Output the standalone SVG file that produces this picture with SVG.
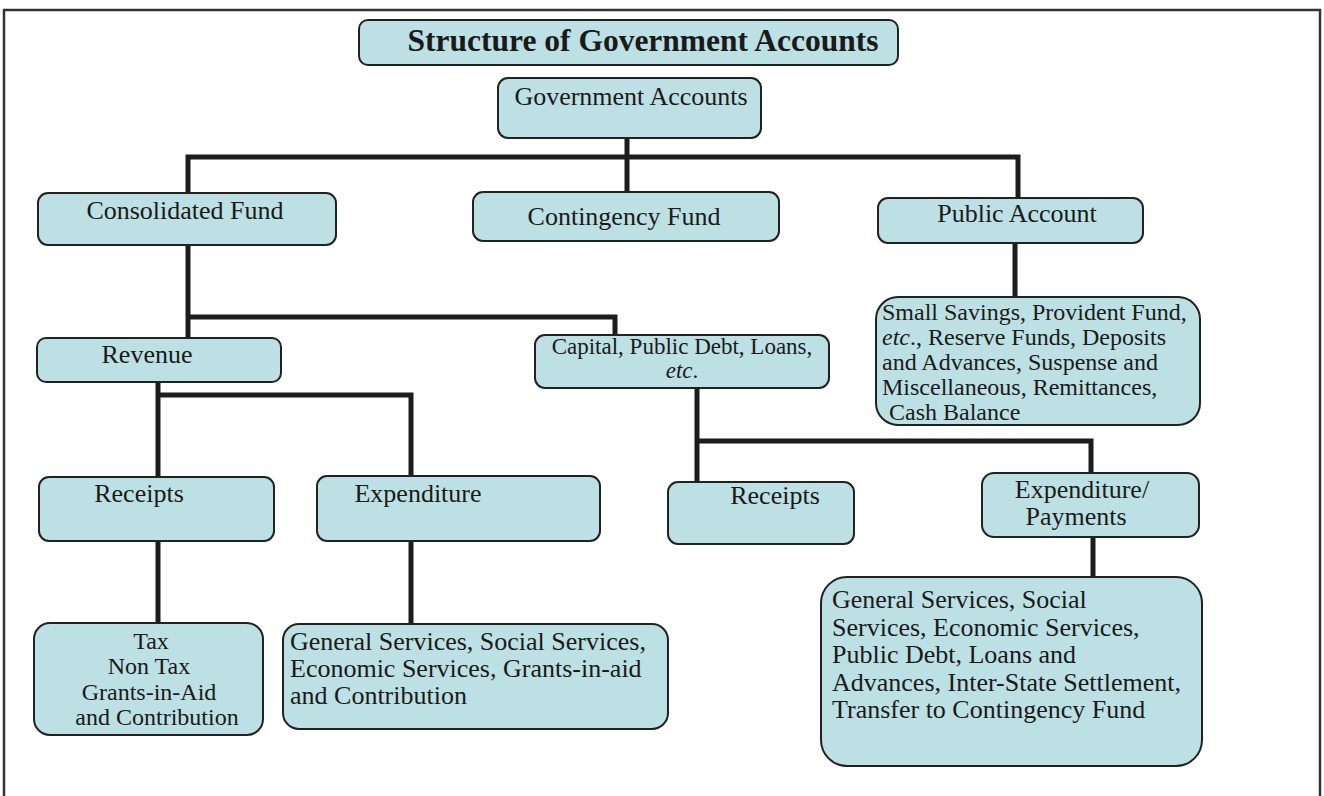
<svg xmlns="http://www.w3.org/2000/svg" width="1324" height="796" viewBox="0 0 1324 796">
  <style>
    .box { fill: #bde0e4; stroke: #222; stroke-width: 2; }
    .lbl { font-family: "Liberation Serif", "Times New Roman", serif; font-size: 26px; fill: #1a1a1a; }
    .sm { font-size: 24px; }
    .it { font-style: italic; }
    .title { font-family: "Liberation Serif", "Times New Roman", serif; font-size: 31.5px; font-weight: bold; fill: #1a1a1a; }
    .link { fill: none; stroke: #1c1c1c; stroke-width: 5; stroke-linejoin: miter; stroke-linecap: butt; }
    .mid { text-anchor: middle; }
  </style>

  <!-- page frame -->
  <rect x="4" y="10" width="1316" height="800" fill="#fff" stroke="#333" stroke-width="2.5"/>

  <g id="connectors">
    <path class="link" d="M627,138 V193"/>
    <path class="link" d="M188,193 V157 H1018 V198"/>
    <path class="link" d="M188,245 V338"/>
    <path class="link" d="M188,317 H615 V335"/>
    <path class="link" d="M1015,243 V297"/>
    <path class="link" d="M158,382 V477"/>
    <path class="link" d="M158,395 H411 V476"/>
    <path class="link" d="M697,388 V482"/>
    <path class="link" d="M697,441 H1091 V473"/>
    <path class="link" d="M158,541 V623"/>
    <path class="link" d="M411,541 V624"/>
    <path class="link" d="M1093,537 V577"/>
  </g>

  <g id="title">
    <rect class="box" x="359" y="20" width="539" height="45" rx="9"/>
    <text class="title" x="643" y="51" text-anchor="middle">Structure of Government Accounts</text>
  </g>

  <g id="government-accounts">
    <rect class="box" x="498" y="78" width="263" height="60" rx="10"/>
    <text class="lbl mid" x="631" y="105">Government Accounts</text>
  </g>

  <g id="consolidated-fund">
    <rect class="box" x="38" y="193" width="298" height="52" rx="10"/>
    <text class="lbl mid" x="185" y="219">Consolidated Fund</text>
  </g>

  <g id="contingency-fund">
    <rect class="box" x="473" y="192" width="306" height="49" rx="10"/>
    <text class="lbl mid" x="624" y="225">Contingency Fund</text>
  </g>

  <g id="public-account">
    <rect class="box" x="878" y="198" width="265" height="45" rx="10"/>
    <text class="lbl mid" x="1017" y="222">Public Account</text>
  </g>

  <g id="public-account-heads">
    <rect class="box" x="876" y="297" width="324" height="128" rx="22"/>
    <text class="lbl sm" x="882" y="320">Small Savings, Provident Fund,<tspan x="882" dy="25"><tspan class="it">etc</tspan>., Reserve Funds, Deposits</tspan><tspan x="882" dy="25">and Advances, Suspense and</tspan><tspan x="882" dy="25">Miscellaneous, Remittances,</tspan><tspan x="889" dy="25">Cash Balance</tspan></text>
  </g>

  <g id="revenue">
    <rect class="box" x="37" y="338" width="244" height="44" rx="9"/>
    <text class="lbl mid" x="147" y="363">Revenue</text>
  </g>

  <g id="capital">
    <rect class="box" x="535" y="335" width="294" height="53" rx="10"/>
    <text class="lbl mid" style="font-size:23px" x="682" y="354">Capital, Public Debt, Loans,<tspan x="682" dy="24"><tspan class="it">etc</tspan>.</tspan></text>
  </g>

  <g id="revenue-receipts">
    <rect class="box" x="39" y="477" width="235" height="64" rx="10"/>
    <text class="lbl mid" x="139" y="502">Receipts</text>
  </g>

  <g id="revenue-expenditure">
    <rect class="box" x="317" y="476" width="283" height="65" rx="10"/>
    <text class="lbl mid" x="418" y="502">Expenditure</text>
  </g>

  <g id="capital-receipts">
    <rect class="box" x="668" y="482" width="186" height="62" rx="10"/>
    <text class="lbl mid" x="775" y="504">Receipts</text>
  </g>

  <g id="capital-expenditure">
    <rect class="box" x="982" y="473" width="217" height="64" rx="12"/>
    <text class="lbl mid" x="1082" y="498">Expenditure/<tspan x="1076" dy="27">Payments</tspan></text>
  </g>

  <g id="receipt-heads">
    <rect class="box" x="34" y="623" width="229" height="112" rx="16"/>
    <text class="lbl sm mid" x="151" y="649">Tax<tspan x="149" dy="25.3">Non Tax</tspan><tspan x="149" dy="25.3">Grants-in-Aid</tspan><tspan x="157" dy="25.3">and Contribution</tspan></text>
  </g>

  <g id="expenditure-heads">
    <rect class="box" x="283" y="624" width="385" height="105" rx="16"/>
    <text class="lbl" x="290" y="650">General Services, Social Services,<tspan x="290" dy="27">Economic Services, Grants-in-aid</tspan><tspan x="290" dy="27">and Contribution</tspan></text>
  </g>

  <g id="payment-heads">
    <rect class="box" x="821" y="577" width="381" height="189" rx="26"/>
    <text class="lbl" x="832" y="608">General Services, Social<tspan x="832" dy="28">Services, Economic Services,</tspan><tspan x="832" dy="27">Public Debt, Loans and</tspan><tspan x="832" dy="28">Advances, Inter-State Settlement,</tspan><tspan x="832" dy="27">Transfer to Contingency Fund</tspan></text>
  </g>
</svg>
